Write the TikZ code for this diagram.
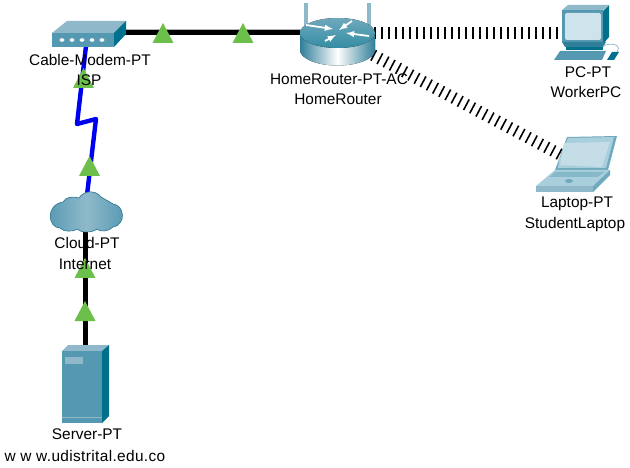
\documentclass[tikz,border=0pt]{standalone}
\usepackage{fontspec}
\setmainfont{Liberation Sans}
\definecolor{topc}{HTML}{8FB9CA}
\definecolor{frontc}{HTML}{5598B2}
\definecolor{sidec}{HTML}{00708C}
\definecolor{darkc}{HTML}{2F7F9A}
\definecolor{screenc}{HTML}{CFE3EC}
\definecolor{lapc}{HTML}{A9CFDC}
\definecolor{lapd}{HTML}{6FA9BD}
\definecolor{trig}{HTML}{6CBF4B}
\definecolor{wire}{HTML}{0000F0}
\usetikzlibrary{calc}
\tikzset{
  anchorbox/.style={inner sep=0pt,minimum size=1pt},
  devlabel/.style={font=\fontsize{15.4}{15.4}\selectfont,inner sep=0pt,text=black},
  copper/.style={line width=5pt,black},
  serial/.style={line width=4.4pt,wire,line join=round},
  wifi/.style={line width=12pt,black,dash pattern=on 1.6pt off 5.4pt},
  flag/.style={fill=trig,draw=none},
}
\newcommand{\flagat}[2]{\fill[flag] (#1,#2-10) -- (#1+10.5,#2+10) -- (#1-10.5,#2+10) -- cycle;}
\begin{document}
\begin{tikzpicture}[x=1pt,y=-1pt]
\useasboundingbox (0,0) rectangle (630,468);
\fill[white] (0,0) rectangle (630,468);
% anchor nodes
\node[anchorbox] (modemE) at (124,33) {};
\node[anchorbox] (modemS) at (86,46) {};
\node[anchorbox] (routerW) at (305,33) {};
\node[anchorbox] (routerE) at (374,33) {};
\node[anchorbox] (routerSE) at (373,55) {};
\node[anchorbox] (pc) at (562,33) {};
\node[anchorbox] (laptop) at (561,155) {};
\node[anchorbox] (cloudN) at (87,195) {};
\node[anchorbox] (cloudS) at (85,232) {};
\node[anchorbox] (server) at (85,346) {};
\coordinate (z1) at (77,124);
\coordinate (z2) at (96,119);
% connectors
\draw[black!30,line width=1pt] ($(modemE.center)+(0,-3)$) -- ($(routerW.center)+(0,-3)$);
\draw[copper] (modemE.center) -- (routerW.center);
\draw[serial] (modemS.center) -- (z1) -- (z2) -- (cloudN.center);
\draw[copper] (cloudS.center) -- (server.center);
\draw[wifi] (routerE.center) -- (pc.center);
\draw[wifi] (routerSE.center) -- (laptop.center);
% flow triangles
\flagat{163}{33}
\flagat{243}{33}
\flagat{83.5}{78}
\flagat{89.5}{166}
\flagat{85}{268}
\flagat{85}{311}
% modem
\fill[topc] (52,33) -- (67,21) -- (126,21) -- (114,33) -- cycle;
\fill[frontc] (52,33) rectangle (114,47);
\fill[sidec] (114,33) -- (126,21) -- (126,34) -- (114,47) -- cycle;
\foreach \d in {62,72,82,92,102} \fill[white] (\d,40) ellipse (2.4 and 1.8);
% cloud
\fill[left color=frontc,right color=frontc,middle color=topc,draw=darkc,line width=.6pt]
 (60,228) .. controls (48,228) and (45,205) .. (63,202)
 .. controls (66,197) and (72,196) .. (79,198)
 .. controls (84,190) and (96,190) .. (101,197)
 .. controls (106,200) and (110,202) .. (113,204)
 .. controls (124,205) and (127,224) .. (113,227)
 .. controls (108,232) and (100,232) .. (97,229)
 .. controls (92,233) and (80,233) .. (78,229)
 .. controls (72,232) and (64,232) .. (60,228) -- cycle;
% server
\fill[topc] (62,351) -- (68,345) -- (109,345) -- (102,351) -- cycle;
\fill[frontc] (62,351) rectangle (102,423);
\fill[sidec] (102,351) -- (109,345) -- (109,416) -- (102,423) -- cycle;
\fill[topc] (65,357) rectangle (83,364);
\draw[topc,line width=.6pt] (62,417) -- (102,417);
% router
\fill[topc] (304,3) rectangle (308,26);
\fill[topc] (367,3) rectangle (371,26);
\fill[left color=darkc,right color=darkc,middle color=white] (300,33) -- (300,50) arc[start angle=180,end angle=0,x radius=37.5,y radius=15.5] -- (375,33) -- cycle;
\fill[top color=lapd,bottom color=sidec!80] (337.5,33) ellipse (37.5 and 15);
\foreach \a/\b/\c/\d in {306/25/333/29, 369/36/346/33, 352/21/339/30, 325/41/336/35}
  \draw[white,line width=1.8pt,-{latex}] (\a,\b) -- (\c,\d);
% pc
\fill[frontc] (562,10) rectangle (603,42);
\fill[sidec] (603,11) -- (609,5) -- (609,37) -- (603,44) -- cycle;
\fill[topc] (568,5) -- (609,5) -- (603,10) -- (562,10) -- cycle;
\fill[screenc,rounded corners=2pt] (565,13) rectangle (601,40);
\fill[darkc] (562,42) -- (606,42) -- (603,47) -- (565,47) -- cycle;
\fill[sidec] (566,47) rectangle (603,50);
\fill[frontc] (554,60) -- (560,51) -- (606,51) -- (602,60) -- cycle;
\fill[sidec] (607,60) -- (612,52) -- (619,52) -- (614,60) -- cycle;
\draw[topc,line width=.7pt] (603,46) .. controls (612,42) and (622,45) .. (617,52);
% laptop
\fill[lapd] (558,162) -- (567,137) -- (617,136) -- (608,170) -- (555,170) -- cycle;
\fill[lapc] (559,160) -- (568,138) -- (614,137) -- (606,168) -- (558,168) -- cycle;
\fill[screenc!70!lapc] (564,143) -- (610,142) -- (602,167) -- (560,165) -- cycle;
\fill[lapc] (536,186) -- (555,170) -- (610,170) -- (593,186) -- cycle;
\fill[lapd!60!lapc] (555,172) -- (605,172) -- (597,177) -- (549,177) -- cycle;
\fill[topc] (536,186) rectangle (593,192);
\fill[lapd] (593,186) -- (610,170) -- (610,175) -- (593,192) -- cycle;
\fill[lapd] (569,181) ellipse (4 and 2);
% labels
\node[devlabel] (lmodem) at (90,60) {Cable-Modem-PT};
\node[devlabel] (lisp) at (89,80) {ISP};
\node[devlabel] (lcloud) at (87,243) {Cloud-PT};
\node[devlabel] (linternet) at (85,264) {Internet};
\node[devlabel] (lserver) at (87,434) {Server-PT};
\node[devlabel] (lurl) at (85,456) {\addfontfeature{LetterSpace=2.4}w w w.udistrital.edu.co};
\node[devlabel] (lrouter) at (339,79) {HomeRouter-PT-AC};
\node[devlabel] (lhome) at (338,99) {HomeRouter};
\node[devlabel] (lpc) at (588,72) {PC-PT};
\node[devlabel] (lworker) at (586,92) {WorkerPC};
\node[devlabel] (llap) at (577,204) {Laptop-PT};
\node[devlabel] (lstudent) at (575,225) {StudentLaptop};
\end{tikzpicture}
\end{document}
